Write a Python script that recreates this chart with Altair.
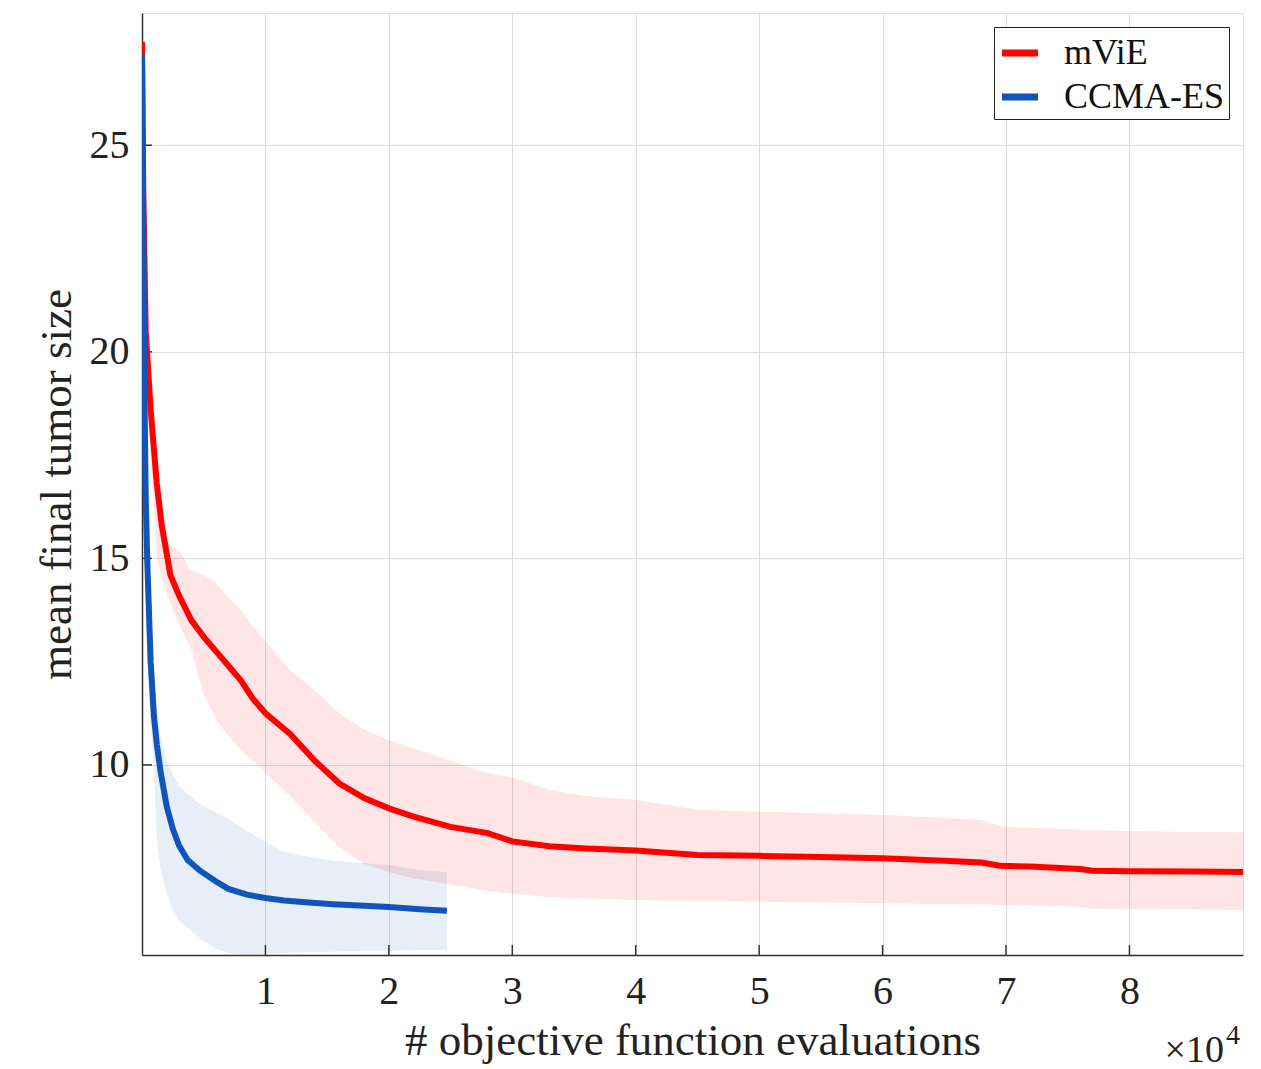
import altair as alt
import pandas as pd

# ---- data ----
mvie_x = [0, 100, 300, 700, 1200, 1600, 2300, 3000, 4000, 5000, 6000, 7000, 8000, 9000,
          10000, 12000, 14000, 16000, 18000, 20000, 22000, 25000, 28000, 30000, 33000,
          36000, 40000, 45000, 50000, 55000, 60000, 65000, 68000, 69500, 72000, 76000,
          77000, 80000, 85000, 89200]
mvie_mean = [27.5, 24.0, 20.5, 18.6, 16.8, 15.8, 14.6, 14.1, 13.5, 13.1, 12.75, 12.4, 12.05,
             11.6, 11.25, 10.75, 10.1, 9.55, 9.2, 8.95, 8.75, 8.5, 8.35, 8.15, 8.03, 7.98,
             7.93, 7.82, 7.80, 7.77, 7.74, 7.68, 7.64, 7.56, 7.54, 7.48, 7.44, 7.43, 7.42, 7.41]
mvie_upper = [27.5, 24.0, 20.5, 18.6, 16.3, 15.7, 15.3, 15.2, 14.7, 14.6, 14.4, 14.05, 13.75,
              13.35, 13.0, 12.3, 11.8, 11.25, 10.85, 10.6, 10.4, 10.1, 9.8, 9.7, 9.4, 9.25,
              9.15, 8.92, 8.87, 8.83, 8.79, 8.72, 8.67, 8.52, 8.48, 8.44, 8.42, 8.40, 8.38, 8.37]
mvie_lower = [27.5, 24.0, 20.0, 17.5, 15.0, 14.5, 13.9, 13.4, 12.8, 11.7, 11.1, 10.7, 10.35,
              10.1, 9.8, 9.25, 8.6, 8.0, 7.6, 7.4, 7.25, 7.1, 6.95, 6.88, 6.8, 6.77,
              6.73, 6.71, 6.69, 6.67, 6.65, 6.63, 6.62, 6.61, 6.60, 6.57, 6.52, 6.51, 6.50, 6.49]

ccma_x = [0, 100, 200, 300, 420, 700, 960, 1200, 1500, 2000, 2500, 3000, 3700, 4700, 6000,
          7000, 8500, 10000, 11500, 13500, 15500, 18000, 20000, 22500, 24700]
ccma_mean = [27.2, 23.0, 19.0, 16.5, 15.0, 12.5, 11.2, 10.5, 9.85, 9.0, 8.45, 8.05, 7.7, 7.44,
             7.18, 7.0, 6.86, 6.78, 6.72, 6.67, 6.63, 6.59, 6.56, 6.51, 6.47]
ccma_upper = [27.2, 23.0, 19.0, 17.0, 15.5, 13.3, 12.1, 11.4, 10.7, 10.1, 9.75, 9.5, 9.3, 9.05,
              8.85, 8.7, 8.4, 8.15, 7.9, 7.78, 7.68, 7.62, 7.58, 7.45, 7.40]
ccma_lower = [27.2, 23.0, 19.0, 14.0, 12.5, 11.0, 10.0, 8.2, 7.5, 6.9, 6.5, 6.25, 6.05, 5.8,
              5.55, 5.45, 5.4, 5.42, 5.45, 5.47, 5.48, 5.5, 5.5, 5.52, 5.52]

series_names = ["mViE", "CCMA-ES"]
series_colors = ["#FF0000", "#1155BB"]
x_ticks = [10000, 20000, 30000, 40000, 50000, 60000, 70000, 80000]
y_ticks = [10, 15, 20, 25]

FONT = "Liberation Serif"
W, H = 1101, 942

mvie = pd.DataFrame({"x": mvie_x, "y": mvie_mean, "lo": mvie_lower, "hi": mvie_upper,
                     "series": "mViE"})
ccma = pd.DataFrame({"x": ccma_x, "y": ccma_mean, "lo": ccma_lower, "hi": ccma_upper,
                     "series": "CCMA-ES"})

xscale = alt.Scale(domain=[0, 89200], nice=False, zero=False)
yscale = alt.Scale(domain=[5.4, 28.2], nice=False, zero=False)
cscale = alt.Scale(domain=series_names, range=series_colors)

xaxis = alt.Axis(values=x_ticks, labelExpr="datum.value / 10000", grid=True,
                 gridColor="#DCDCDC", gridWidth=1, domainColor="#333333", domainWidth=1.5,
                 tickSize=0, labelPadding=16, labelFont=FONT, labelFontSize=40,
                 labelColor="#222222", title="# objective function evaluations",
                 titleFont=FONT, titleFontSize=45, titleFontWeight="normal",
                 titleColor="#222222", titlePadding=7)
yaxis = alt.Axis(values=y_ticks, grid=True, gridColor="#DCDCDC", gridWidth=1,
                 domainColor="#333333", domainWidth=1.5, tickSize=0, labelPadding=13,
                 labelFont=FONT, labelFontSize=40, labelColor="#222222",
                 title="mean final tumor size", titleFont=FONT, titleFontSize=45,
                 titleFontWeight="normal", titleColor="#222222", titlePadding=10)

def band(df, color):
    return alt.Chart(df).mark_area(color=color, opacity=0.1, clip=True).encode(
        x=alt.X("x:Q", scale=xscale, axis=xaxis),
        y=alt.Y("lo:Q", scale=yscale, axis=yaxis),
        y2="hi:Q",
    )

def line(df):
    return alt.Chart(df).mark_line(strokeWidth=6, clip=True).encode(
        x=alt.X("x:Q", scale=xscale, axis=xaxis),
        y=alt.Y("y:Q", scale=yscale, axis=yaxis),
        color=alt.Color("series:N", scale=cscale, sort=series_names,
                        legend=alt.Legend(title=None, orient="none", legendX=852, legendY=14,
                                          strokeColor="#222222", fillColor="white",
                                          padding=4, symbolType="stroke", symbolSize=1300,
                                          symbolStrokeWidth=7, labelFont=FONT,
                                          labelFontSize=36, labelColor="#111111",
                                          labelOffset=22, rowPadding=4, labelLimit=0,
                                          labelExpr="datum.label == 'mViE' ? '\u00a0\u00a0mViE' : datum.label")),
    )

xt = pd.DataFrame({"x": x_ticks})
yt = pd.DataFrame({"y": y_ticks})
xtick_rules = alt.Chart(xt).mark_rule(color="#333333", strokeWidth=1.5).encode(
    x=alt.X("x:Q", scale=xscale, axis=xaxis), y=alt.value(H), y2=alt.value(H - 10))
ytick_rules = alt.Chart(yt).mark_rule(color="#333333", strokeWidth=1.5).encode(
    y=alt.Y("y:Q", scale=yscale, axis=yaxis), x=alt.value(0), x2=alt.value(10))

exp_main = alt.Chart(alt.Data(values=[{"t": "×10"}])).mark_text(
    font=FONT, fontSize=38, color="#222222", align="right", baseline="alphabetic"
).encode(text="t:N", x=alt.value(1082), y=alt.value(1049))
exp_sup = alt.Chart(alt.Data(values=[{"t": "4"}])).mark_text(
    font=FONT, fontSize=28, color="#222222", align="left", baseline="alphabetic"
).encode(text="t:N", x=alt.value(1084), y=alt.value(1031))

chart = alt.layer(
    band(mvie, series_colors[0]),
    band(ccma, series_colors[1]),
    xtick_rules, ytick_rules,
    line(mvie),
    line(ccma),
    exp_main, exp_sup,
).properties(
    width=W, height=H,
    autosize=alt.AutoSizeParams(type="none"),
    padding={"left": 142, "top": 13, "right": 18, "bottom": 114},
).configure_view(stroke=None).configure(background="white")

chart.save("out.html", embed_options={"renderer": "svg", "actions": False})
